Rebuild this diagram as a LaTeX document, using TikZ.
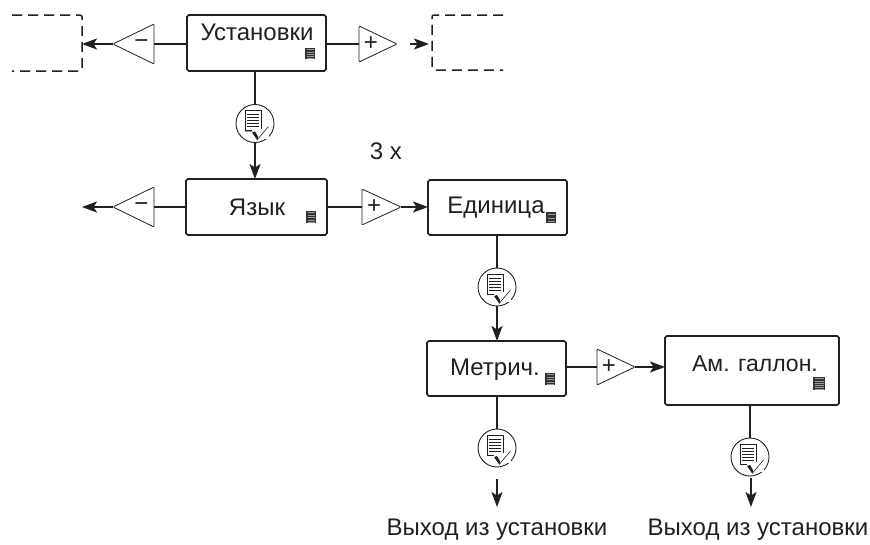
\documentclass[tikz,border=0pt]{standalone}
\usepackage{fontspec}
\setmainfont{Liberation Sans}
\usetikzlibrary{arrows.meta}
\definecolor{ink}{HTML}{231F20}
\tikzset{
  x=1pt,y=-1pt,
  every path/.style={color=ink},
  box/.style={draw,rounded corners=1.8pt,line width=1.6pt,inner sep=0pt,outer sep=0pt},
  lbl/.style={anchor=base,inner sep=0pt,font=\fontsize{24}{27}\selectfont,text=ink},
  conn/.style={line width=1.7pt},
  arr/.style={line width=1.7pt,-{Stealth[length=15pt,width=11pt,inset=3.5pt]}},
  tri/.style={line width=.8pt,line join=round,rounded corners=1pt},
  dash box/.style={line width=1.5pt,dash pattern=on 10pt off 6pt,rounded corners=2pt},
  round/.style={draw,circle,line width=.9pt,minimum size=38pt,inner sep=0pt,outer sep=0pt},
}
% name, x, y, half-height, tip offset, sign
\newcommand{\plusminus}[6]{%
  \coordinate (#1-tip) at (#2+#5,#3);
  \coordinate (#1-base) at (#2,#3);
  \draw[tri] (#2,#3-#4) -- (#1-tip) -- (#2,#3+#4) -- cycle;
  \node[inner sep=0pt,font=\fontsize{24}{24}\selectfont,text=ink] (#1-s) at (#2+#5*.31,#3) {#6};
}
% small key icon
\newcommand{\keyicon}[5]{%
  \fill[ink!92] (#1,#2) rectangle (#1+#3,#2+#4);
  \foreach \k in {1,...,#5}{\draw[ink!45,line width=.3pt] (#1+1.5,#2+\k*#4/#5+.4-#4/#5*.5) -- (#1+#3-1.5,#2+\k*#4/#5+.4-#4/#5*.5);}
}
% confirm icon in a circle
\newcommand{\okicon}[3]{%
  \node[round] (#1) at (#2,#3) {};
  \fill[ink!45] (#2-10,#3-13) rectangle (#2+7,#3+8);
  \fill[white] (#2-9,#3-12.2) rectangle (#2+5.7,#3+6.5);
  \draw[line width=.7pt] (#2-10,#3-13) rectangle (#2+6,#3+7);
  \foreach \k in {-9,-6,-3,0,3}{\draw[line width=1pt] (#2-8,#3+\k) -- (#2+4,#3+\k);}
  \fill[white] (#2-3,#3+5) rectangle (#2+14,#3+15);
  \fill[ink] (#2-3,#3+9) -- (#2,#3+8) -- (#2+3,#3+13) -- (#2+2.5,#3+17) -- cycle;
  \draw[line width=.6pt] (#2+2.5,#3+16) -- (#2+13.5,#3+3);
}
\begin{document}
\begin{tikzpicture}
\useasboundingbox (0,0) rectangle (870,544);
% boxes
\node[box,minimum width=139pt,minimum height=56pt] (ust) at (256.5,43) {};
\node[box,minimum width=141pt,minimum height=56pt] (yaz) at (256.5,207) {};
\node[box,minimum width=139pt,minimum height=55pt] (edi) at (497.5,207.5) {};
\node[box,minimum width=139pt,minimum height=55pt] (met) at (496.5,368.5) {};
\node[box,minimum width=174pt,minimum height=69pt] (gal) at (752,370.5) {};
% box texts
\node[lbl] (tust) at (257,40) {Установки};
\node[lbl] (tyaz) at (257,215) {Язык};
\node[lbl] (tedi) at (496,213) {Единица};
\node[lbl] (tmet) at (495,375) {Метрич.};
\node[lbl,font=\fontsize{23}{26}\selectfont] (tgal) at (755,371) {Ам. галлон.};
\node[lbl] (three) at (386,159) {3 x};
\node[lbl] (exa) at (497,535) {Выход из установки};
\node[lbl] (exb) at (758,535) {Выход из установки};
% key icons
\keyicon{305}{48}{10}{11}{5}
\keyicon{306}{211}{10}{12}{5}
\keyicon{546}{212}{10}{11}{3}
\keyicon{545}{373}{10}{12}{5}
\keyicon{813}{377}{12}{13}{6}
% triangles
\plusminus{m1}{154}{44}{20}{-41}{−}
\plusminus{p1}{359}{44}{18}{38}{+}
\plusminus{m2}{154}{207}{20}{-41}{−}
\plusminus{p2}{362}{207}{18}{39}{+}
\plusminus{p3}{597}{367}{18}{38}{+}
% confirm icons
\okicon{c1}{255}{123.5}
\okicon{c2}{497}{287}
\okicon{c3}{497}{448}
\okicon{c4}{750}{457}
% dashed frames
\draw[dash box] (12,15) -- (82,15) -- (82,71) -- (12,71);
\draw[dash box] (503,15) -- (432,15) -- (432,70) -- (503,70);
\coordinate (dl) at (82,44);
\coordinate (dr) at (429,44);
\coordinate (fr) at (410,44);
\coordinate (el) at (82,207);
\coordinate (c3o) at (497,479);
\coordinate (c3e) at (497,507);
\coordinate (c4o) at (751,478);
\coordinate (c4e) at (751,507);
% connectors
\draw[conn] (ust.west |- m1-base) -- (m1-base);
\draw[arr] (m1-tip) -- (dl);
\draw[conn] (ust.east |- p1-base) -- (p1-base);
\draw[arr] (fr) -- (dr);
\draw[conn] (ust.south -| c1) -- (c1.north);
\draw[arr] (c1.south) -- (c1 |- yaz.north);
\draw[conn] (yaz.west) -- (m2-base);
\draw[arr] (m2-tip) -- (el);
\draw[conn] (yaz.east |- p2-base) -- (p2-base);
\draw[arr] (p2-tip) -- (edi.west |- p2-tip);
\draw[conn] (edi.south -| c2) -- (c2.north);
\draw[arr] (c2.south) -- (c2 |- met.north);
\draw[conn] (met.south -| c3) -- (c3.north);
\draw[arr] (c3o) -- (c3e);
\draw[conn] (met.east |- p3-base) -- (p3-base);
\draw[arr] (p3-tip) -- (gal.west |- p3-tip);
\draw[conn] (gal.south -| c4) -- (c4.north);
\draw[arr] (c4o) -- (c4e);
\end{tikzpicture}
\end{document}
